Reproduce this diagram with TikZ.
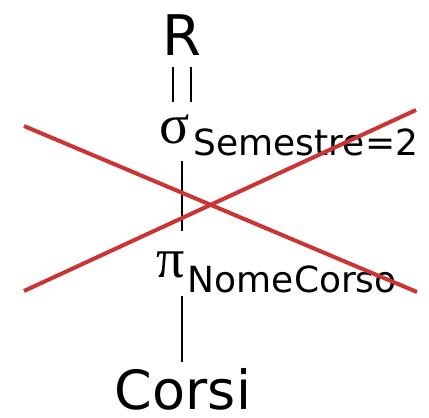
\documentclass[tikz,border=0pt]{standalone}
\usepackage{fontspec}
\setmainfont{DejaVu Sans}
\newfontfamily\greekfont{Liberation Serif}
\usetikzlibrary{positioning,calc}
\definecolor{crossred}{RGB}{204,51,51}
\tikzset{
  rel/.style={font=\fontsize{56}{60}\selectfont, inner sep=0pt, anchor=base},
  op/.style={font=\greekfont\fontsize{56}{60}\selectfont, inner sep=0pt, anchor=base west},
  cond/.style={font=\fontsize{36}{40}\selectfont, inner sep=0pt, anchor=base west},
  link/.style={line width=1.8pt},
  cross/.style={crossred, line width=4pt},
}

\begin{document}
\begin{tikzpicture}[x=1pt,y=1pt]
\useasboundingbox (0,0) rectangle (429,-418);

% operator tree
\node[rel] (R) at (182,-55) {R};
\node[op] (sigma) at (159,-143) {σ};
\node[cond] (sel) at ([shift={(4pt,-12pt)}]sigma.base east) {Semestre=2};
\node[op] (pi) at (156,-277) {π};
\node[cond] (proj) at ([shift={(3pt,-15pt)}]pi.base east) {NomeCorso};
\node[rel,font=\fontsize{54}{58}\selectfont] (corsi) at (183,-409) {Corsi};

\draw[link] ([xshift=-9pt]R.south) ++(0,-12pt) -- ++(0,-35pt);
\draw[link] ([xshift=9pt]R.south) ++(0,-12pt) -- ++(0,-35pt);
\draw[link] (sigma.south -| R) ++(0,-17pt) -- ++(0,-70pt);
\draw[link] (pi.south -| R) ++(0,-18pt) -- ([yshift=6pt]corsi.north -| R);

% crossed out
\draw[cross] (24,-126) -- (417,-292);
\draw[cross] (24,-291) -- (416,-110);
\end{tikzpicture}
\end{document}
